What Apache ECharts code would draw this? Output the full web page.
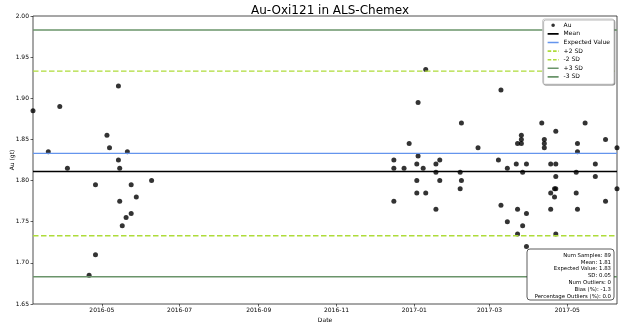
<!DOCTYPE html>
<html>
<head>
<meta charset="utf-8">
<script src="https://cdn.jsdelivr.net/npm/echarts@6/dist/echarts.min.js"></script>
<style>
  html, body { margin: 0; padding: 0; background: #fff; }
  #chart { width: 624px; height: 322px; }
</style>
</head>
<body>
<div id="chart"></div>
<script>
// sample dates and Au values
const auDates = [
  '2016-03-08', '2016-03-20', '2016-03-29', '2016-04-04', '2016-04-21', '2016-04-26', '2016-04-26',
  '2016-05-05', '2016-05-07', '2016-05-14', '2016-05-14', '2016-05-15', '2016-05-15', '2016-05-17',
  '2016-05-20', '2016-05-21', '2016-05-24', '2016-05-24', '2016-05-28', '2016-06-09',
  '2016-12-16', '2016-12-16', '2016-12-16', '2016-12-24', '2016-12-28',
  '2017-01-03', '2017-01-03', '2017-01-03', '2017-01-04', '2017-01-04', '2017-01-08',
  '2017-01-10', '2017-01-10', '2017-01-18', '2017-01-18', '2017-01-18', '2017-01-21', '2017-01-21',
  '2017-02-06', '2017-02-06', '2017-02-07', '2017-02-07', '2017-02-20',
  '2017-03-08', '2017-03-10', '2017-03-10', '2017-03-15', '2017-03-15', '2017-03-22',
  '2017-03-23', '2017-03-23', '2017-03-23', '2017-03-26', '2017-03-26', '2017-03-26',
  '2017-03-27', '2017-03-27', '2017-03-30', '2017-03-30', '2017-03-30',
  '2017-04-11', '2017-04-13', '2017-04-13', '2017-04-13', '2017-04-18', '2017-04-18', '2017-04-18',
  '2017-04-21', '2017-04-21', '2017-04-22', '2017-04-22', '2017-04-22', '2017-04-22', '2017-04-22',
  '2017-05-08', '2017-05-08', '2017-05-09', '2017-05-09', '2017-05-09', '2017-05-15',
  '2017-05-23', '2017-05-23', '2017-05-31', '2017-05-31', '2017-06-09', '2017-06-09'
]
const auValues = [
  1.885, 1.835, 1.89, 1.815, 1.685, 1.795, 1.71,
  1.855, 1.84, 1.915, 1.825, 1.815, 1.775, 1.745,
  1.755, 1.835, 1.795, 1.76, 1.78, 1.80,
  1.825, 1.815, 1.775, 1.815, 1.845,
  1.82, 1.80, 1.785, 1.895, 1.83, 1.815,
  1.935, 1.785, 1.82, 1.81, 1.765, 1.825, 1.80,
  1.81, 1.79, 1.87, 1.80, 1.84,
  1.825, 1.91, 1.77, 1.815, 1.75, 1.82,
  1.845, 1.765, 1.735, 1.855, 1.85, 1.845,
  1.81, 1.745, 1.82, 1.76, 1.72,
  1.87, 1.85, 1.845, 1.84, 1.82, 1.785, 1.765,
  1.79, 1.78, 1.82, 1.805, 1.79, 1.86, 1.735,
  1.81, 1.785, 1.845, 1.835, 1.765, 1.87,
  1.82, 1.805, 1.85, 1.775, 1.84, 1.79
]

// reference lines
const refNames = ['Mean', 'Expected Value', '+2 SD', '-2 SD', '+3 SD', '-3 SD']
const refValues = [1.811, 1.833, 1.933, 1.733, 1.983, 1.683]
const refColors = ['#000000', '#6495ed', '#aedc3a', '#aedc3a', '#6a946a', '#6a946a']
const refTypes = ['solid', 'solid', 'dashed', 'dashed', 'solid', 'solid']
const refWidths = [1.6, 1.2, 1.4, 1.4, 1.5, 1.5]

const dateRange = ['2016-03-08', '2017-06-09']
const xTickLabels = ['2016-05', '2016-07', '2016-09', '2016-11', '2017-01', '2017-03', '2017-05']
const yTicks = { min: 1.65, max: 2.0, step: 0.05 }

const statsLines = [
  'Num Samples: 89',
  'Mean: 1.81',
  'Expected Value: 1.83',
  'SD: 0.05',
  'Num Outliers: 0',
  'Bias (%): -1.3',
  'Percentage Outliers (%): 0.0'
]

function toTs(s) {
  const p = s.split('-').map(Number)
  return new Date(p[0], p[1] - 1, p[2] || 1).getTime()
}
function fmtMonth(v) {
  const d = new Date(v)
  return d.getFullYear() + '-' + String(d.getMonth() + 1).padStart(2, '0')
}

const xMin = toTs(dateRange[0])
const xMax = toTs(dateRange[1])
const tickTs = xTickLabels.map(toTs)
const font = 'DejaVu Sans'

// legend glyphs in a 11x5 box: thin bar (solid) or broken bar (dashed);
// the two specks pin the box corners so the bar keeps its thickness
const pin = 'M0,0h0.01v0.01h-0.01z M10.99,4.99h0.01v0.01h-0.01z '
const solidIcon = 'path://' + pin + 'M0,1.7h11v1.6h-11z'
const dashIcon = 'path://' + pin + 'M0,1.7h3.6v1.6h-3.6z M5.4,1.7h3.6v1.6h-3.6z M10.4,1.7h0.6v1.6h-0.6z'
const dotIcon = 'path://' + pin + 'M5.5,0.7a1.8,1.8 0 1,0 0.001,0z'

const chart = echarts.init(document.getElementById('chart'))

const refSeries = refNames.map((name, i) => ({
  name,
  type: 'line',
  data: [[xMin, refValues[i]], [xMax, refValues[i]]],
  symbol: 'none',
  silent: true,
  z: 3,
  lineStyle: {
    color: refColors[i],
    width: refWidths[i],
    type: refTypes[i] === 'dashed' ? [5.5, 2.5] : 'solid',
  },
  itemStyle: { color: refColors[i] },
}))

const legendData = [{ name: 'Au', icon: dotIcon }].concat(
  refNames.map((name, i) => ({
    name,
    icon: refTypes[i] === 'dashed' ? dashIcon : solidIcon,
  }))
)

chart.setOption({
  animation: false,
  backgroundColor: '#fff',
  textStyle: { fontFamily: font },
  title: {
    text: 'Au-Oxi121 in ALS-Chemex',
    left: 325,
    textAlign: 'center',
    top: 0,
    textStyle: { fontSize: 12, fontWeight: 'normal', color: '#000', fontFamily: font },
  },
  grid: {
    left: 33, right: 7, top: 16, bottom: 18,
    show: true, borderColor: '#222', borderWidth: 0.8,
    outerBoundsMode: 'none',
  },
  legend: {
    orient: 'vertical',
    right: 10,
    top: 19,
    padding: [2, 4, 3, 5],
    itemGap: 0,
    itemWidth: 11,
    itemHeight: 5,
    backgroundColor: '#fff',
    borderColor: '#bbb',
    borderWidth: 0.8,
    borderRadius: 2,
    shadowColor: 'rgba(0,0,0,0.35)',
    shadowOffsetX: 1,
    shadowOffsetY: 1,
    shadowBlur: 0,
    textStyle: { fontSize: 6, color: '#000', fontFamily: font, lineHeight: 8.6 },
    data: legendData,
  },
  xAxis: {
    type: 'value',
    min: xMin,
    max: xMax,
    name: 'Date',
    nameLocation: 'middle',
    nameGap: 13,
    nameMoveOverlap: false,
    nameTextStyle: { fontSize: 6, color: '#000' },
    axisLine: { show: false },
    axisTick: { show: true, customValues: tickTs, length: 2.5, lineStyle: { color: '#000', width: 0.6 } },
    axisLabel: {
      customValues: tickTs,
      formatter: v => fmtMonth(v),
      fontSize: 6,
      color: '#000',
      margin: 3,
      hideOverlap: false,
    },
    splitLine: { show: false },
  },
  yAxis: {
    type: 'value',
    min: yTicks.min,
    max: yTicks.max,
    interval: yTicks.step,
    name: 'Au (gt)',
    nameLocation: 'middle',
    nameGap: 18,
    nameMoveOverlap: false,
    nameTextStyle: { fontSize: 6, color: '#000' },
    axisLine: { show: false },
    axisTick: { show: true, length: 2.5, lineStyle: { color: '#000', width: 0.6 } },
    axisLabel: { fontSize: 6, color: '#000', margin: 4, formatter: v => v.toFixed(2) },
    splitLine: { show: false },
  },
  series: [
    {
      name: 'Au',
      type: 'scatter',
      data: auDates.map((d, i) => [toTs(d), auValues[i]]),
      symbol: 'circle',
      symbolSize: 5,
      z: 2,
      itemStyle: { color: '#000' },
    },
  ].concat(refSeries),
  graphic: [
    {
      type: 'rect',
      shape: { x: 527, y: 249, width: 87, height: 51, r: 3 },
      style: { fill: '#fff', stroke: '#333', lineWidth: 0.8 },
      z: 100,
    },
    {
      type: 'text',
      x: 611,
      y: 252,
      z: 101,
      style: {
        text: statsLines.join('\n'),
        fontSize: 5.4,
        lineHeight: 6.8,
        fontFamily: font,
        fill: '#000',
        align: 'right',
        verticalAlign: 'top',
      },
    },
  ],
})
</script>
</body>
</html>
